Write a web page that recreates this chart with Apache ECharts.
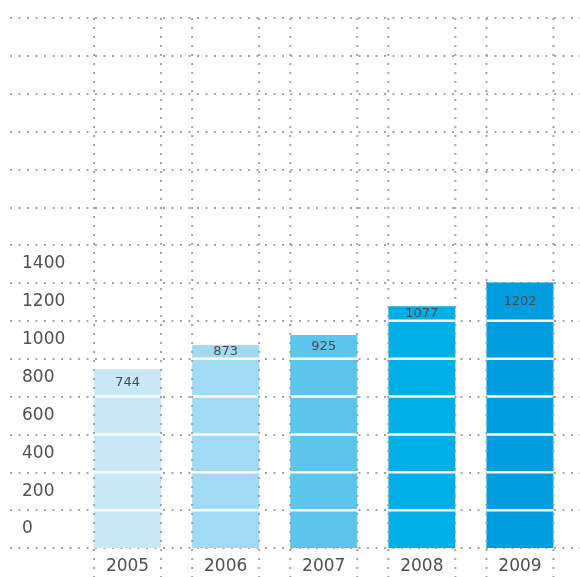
<!DOCTYPE html>
<html><head><meta charset="utf-8">
<script src="https://cdn.jsdelivr.net/npm/echarts@6/dist/echarts.min.js"></script>
<style>html,body{margin:0;padding:0;background:#fff}#c{width:580px;height:577px}</style>
</head><body><div id="c"></div>
<script>
const years = ['2005', '2006', '2007', '2008', '2009'];
const values = [744, 873, 925, 1077, 1202];
const barColors = ['#c8e8f8', '#a3daf3', '#5cc5ec', '#00afe5', '#009ddf'];
const tickLabels = ['0', '200', '400', '600', '800', '1000', '1200', '1400', '', '', '', '', '', ''];
const axisMin = -200, axisMax = 2600, step = 200;

const FONT = 'DejaVu Sans';
const dotColor = '#a3a3a3';
const chart = echarts.init(document.getElementById('c'), null, { renderer: 'canvas' });

function renderBar(params, api) {
  const i = api.value(0), v = api.value(1);
  const top = api.coord([i, v]);
  const base = api.coord([i, axisMin]);
  const gridTop = api.coord([i, axisMax])[1];
  const bw = 67;
  const left = top[0] - bw / 2;
  const children = [{
    type: 'rect',
    shape: { x: left, y: top[1], width: bw, height: base[1] - top[1] },
    style: { fill: barColors[params.dataIndex] }
  }];
  let lastY = base[1];
  for (let g = axisMin + step; g < v; g += step) {
    const y = api.coord([i, g])[1];
    if (y - top[1] < 8) continue;
    lastY = y;
    children.push({
      type: 'line',
      shape: { x1: left, y1: y, x2: left + bw, y2: y },
      style: { stroke: '#ffffff', lineWidth: 2.5 }
    });
  }
  children.push({
    type: 'text',
    style: {
      text: String(v), x: top[0], y: (top[1] + lastY) / 2,
      textAlign: 'center', textVerticalAlign: 'middle',
      fill: '#4a4a4a', font: '13px "' + FONT + '"'
    }
  });
  [left, left + bw].forEach(function (xx) {
    children.push({
      type: 'line',
      shape: { x1: xx, y1: gridTop, x2: xx, y2: 577 },
      style: { stroke: dotColor, lineWidth: 2, lineDash: [2, 7] }
    });
  });
  return { type: 'group', children: children };
}

chart.setOption({
  animation: false,
  backgroundColor: '#fff',
  grid: [
    { left: 10, right: 0, top: 18, bottom: 29 },
    { left: 78.5, right: 11, top: 18, bottom: 29 }
  ],
  xAxis: [
    { gridIndex: 0, type: 'value', min: 0, max: 1, show: false },
    {
      gridIndex: 1, type: 'category', data: years,
      axisLine: { show: false }, axisTick: { show: false },
      axisLabel: { color: '#505050', fontSize: 17, fontFamily: FONT, margin: 10 },
      splitLine: { show: false }
    }
  ],
  yAxis: [
    {
      gridIndex: 0, type: 'value', min: axisMin, max: axisMax, interval: step,
      axisLine: { show: false }, axisTick: { show: false }, axisLabel: { show: false },
      splitLine: { show: true, lineStyle: { color: dotColor, width: 2, type: [2, 6.5] } }
    },
    {
      gridIndex: 0, type: 'category', data: tickLabels, position: 'left',
      axisLine: { show: false }, axisTick: { show: false }, splitLine: { show: false },
      axisLabel: { inside: true, interval: 0, margin: 12, color: '#505050', fontSize: 17, fontFamily: FONT }
    },
    { gridIndex: 1, type: 'value', min: axisMin, max: axisMax, show: false, splitLine: { show: false } }
  ],
  series: [{
    type: 'custom',
    xAxisIndex: 1, yAxisIndex: 2,
    data: values.map(function (v, i) { return [i, v]; }),
    encode: { x: 0, y: 1 },
    renderItem: renderBar,
    z: 5
  }]
});
</script></body></html>
